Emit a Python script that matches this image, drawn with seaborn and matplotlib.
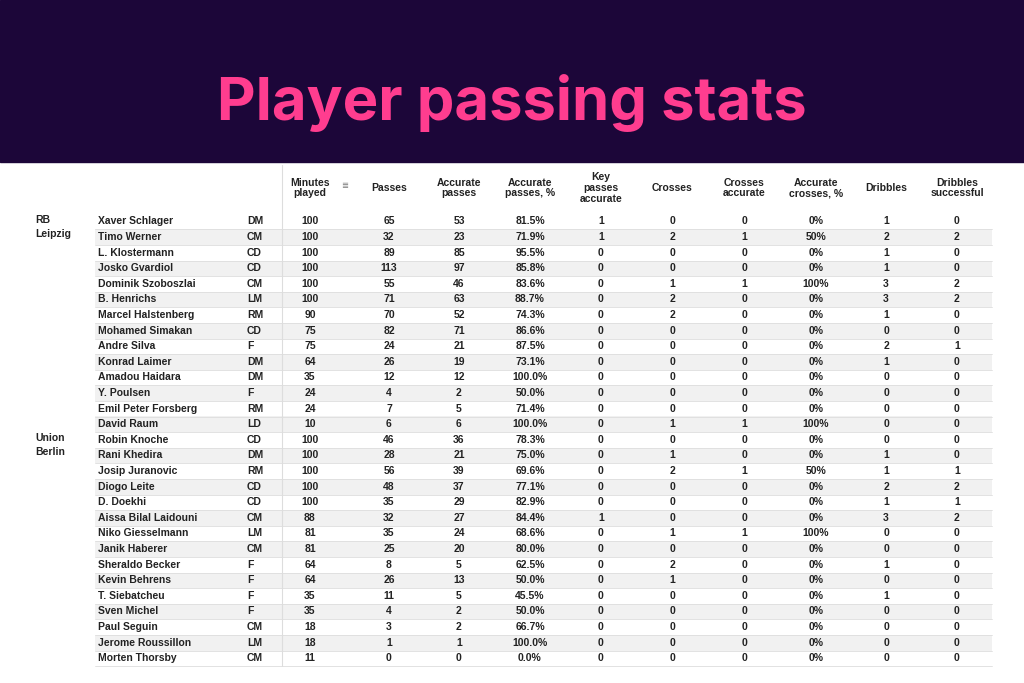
import matplotlib
matplotlib.use("Agg")
import matplotlib.pyplot as plt
import seaborn as sns
from matplotlib import font_manager

sns.set_theme(style="white")

teams = ["RB\nLeipzig"] + [""] * 13 + ["Union\nBerlin"] + [""] * 14
names = ["Xaver Schlager", "Timo Werner", "L. Klostermann", "Josko Gvardiol", "Dominik Szoboszlai",
         "B. Henrichs", "Marcel Halstenberg", "Mohamed Simakan", "Andre Silva", "Konrad Laimer",
         "Amadou Haidara", "Y. Poulsen", "Emil Peter Forsberg", "David Raum",
         "Robin Knoche", "Rani Khedira", "Josip Juranovic", "Diogo Leite", "D. Doekhi",
         "Aissa Bilal Laidouni", "Niko Giesselmann", "Janik Haberer", "Sheraldo Becker",
         "Kevin Behrens", "T. Siebatcheu", "Sven Michel", "Paul Seguin", "Jerome Roussillon",
         "Morten Thorsby"]
positions = ["DM", "CM", "CD", "CD", "CM", "LM", "RM", "CD", "F", "DM", "DM", "F", "RM", "LD",
             "CD", "DM", "RM", "CD", "CD", "CM", "LM", "CM", "F", "F", "F", "F", "CM", "LM", "CM"]
minutes = [100, 100, 100, 100, 100, 100, 90, 75, 75, 64, 35, 24, 24, 10,
           100, 100, 100, 100, 100, 88, 81, 81, 64, 64, 35, 35, 18, 18, 11]
passes = [65, 32, 89, 113, 55, 71, 70, 82, 24, 26, 12, 4, 7, 6,
          46, 28, 56, 48, 35, 32, 35, 25, 8, 26, 11, 4, 3, 1, 0]
acc_passes = [53, 23, 85, 97, 46, 63, 52, 71, 21, 19, 12, 2, 5, 6,
              36, 21, 39, 37, 29, 27, 24, 20, 5, 13, 5, 2, 2, 1, 0]
acc_pct = ["81.5%", "71.9%", "95.5%", "85.8%", "83.6%", "88.7%", "74.3%", "86.6%", "87.5%", "73.1%",
           "100.0%", "50.0%", "71.4%", "100.0%",
           "78.3%", "75.0%", "69.6%", "77.1%", "82.9%", "84.4%", "68.6%", "80.0%", "62.5%", "50.0%",
           "45.5%", "50.0%", "66.7%", "100.0%", "0.0%"]
key_passes = [1, 1, 0, 0, 0, 0, 0, 0, 0, 0, 0, 0, 0, 0,
              0, 0, 0, 0, 0, 1, 0, 0, 0, 0, 0, 0, 0, 0, 0]
crosses = [0, 2, 0, 0, 1, 2, 2, 0, 0, 0, 0, 0, 0, 1,
           0, 1, 2, 0, 0, 0, 1, 0, 2, 1, 0, 0, 0, 0, 0]
crosses_acc = [0, 1, 0, 0, 1, 0, 0, 0, 0, 0, 0, 0, 0, 1,
               0, 0, 1, 0, 0, 0, 1, 0, 0, 0, 0, 0, 0, 0, 0]
cross_pct = ["0%", "50%", "0%", "0%", "100%", "0%", "0%", "0%", "0%", "0%", "0%", "0%", "0%", "100%",
             "0%", "0%", "50%", "0%", "0%", "0%", "100%", "0%", "0%", "0%", "0%", "0%", "0%", "0%", "0%"]
dribbles = [1, 2, 1, 1, 3, 3, 1, 0, 2, 1, 0, 0, 0, 0,
            0, 1, 1, 2, 1, 3, 0, 0, 1, 0, 1, 0, 0, 0, 0]
dribbles_succ = [0, 2, 0, 0, 2, 2, 0, 0, 1, 0, 0, 0, 0, 0,
                 0, 0, 1, 2, 1, 2, 0, 0, 0, 0, 0, 0, 0, 0, 0]
headers = ["Minutes\nplayed", "Passes", "Accurate\npasses", "Accurate\npasses, %", "Key\npasses\naccurate",
           "Crosses", "Crosses\naccurate", "Accurate\ncrosses, %", "Dribbles", "Dribbles\nsuccessful"]

names_avail = {f.name for f in font_manager.fontManager.ttflist}
tfont = "Liberation Sans Narrow" if "Liberation Sans Narrow" in names_avail else "Liberation Sans"

fig = plt.figure(figsize=(10.24, 6.83), dpi=100)
ax = fig.add_axes([0, 0, 1, 1])
ax.set_xlim(0, 1024)
ax.set_ylim(683, 0)
ax.axis("off")

ax.axhspan(0, 162, color="#1c0639")
ax.text(512, 103, "Player passing stats", color="#ff3d8f", fontsize=43, fontweight="bold",
        family="Inter", ha="center", va="center")

y0, rh = 221.5, 15.6
n = len(names)
for i in range(n):
    yc = y0 + i * rh
    if i % 2 == 1:
        ax.axhspan(yc - rh / 2, yc + rh / 2, xmin=95 / 1024, xmax=992 / 1024, color="#f1f1f1", lw=0)
    ax.plot([95, 992], [yc + rh / 2, yc + rh / 2], color="#dddddd", lw=0.6)
ax.plot([282, 282], [165, y0 + n * rh - rh / 2], color="#dddddd", lw=0.8)

cols_x = [310, 389, 459, 530, 601, 672, 744, 816, 886, 957]
for x, h in zip(cols_x, headers):
    ax.text(x, 188, h, ha="center", va="center", fontsize=7.5, fontweight="bold",
            family=tfont, color="#222222", linespacing=1.1)
ax.text(345, 186, "\u2263", ha="center", va="center", fontsize=6, color="#777777")

kw = dict(fontsize=7.5, fontweight="bold", family=tfont, color="#222222", va="center")
cols = [minutes, passes, acc_passes, acc_pct, key_passes, crosses, crosses_acc, cross_pct, dribbles, dribbles_succ]
for i in range(n):
    yc = y0 + i * rh
    if teams[i]:
        ax.text(35, yc - rh / 2 + 1, teams[i], ha="left", va="top", fontsize=7.5, fontweight="bold",
                family=tfont, color="#222222", linespacing=1.5)
    ax.text(98, yc, names[i], ha="left", **kw)
    ax.text(247, yc, positions[i], ha="left", **kw)
    for x, c in zip(cols_x, cols):
        ax.text(x, yc, str(c[i]), ha="center", **kw)

fig.savefig("out.png", dpi=100, facecolor="white")
